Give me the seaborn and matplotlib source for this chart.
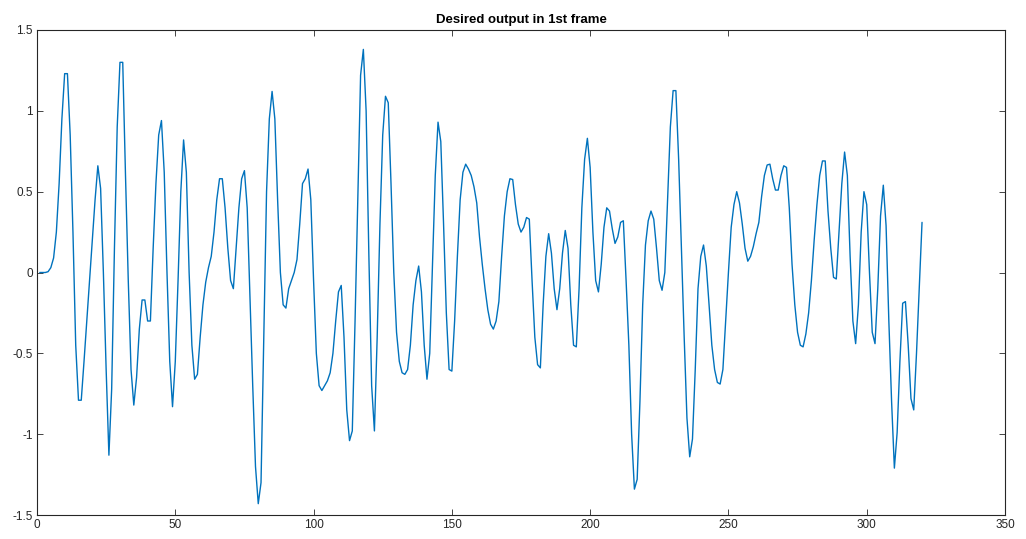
import numpy as np
import pandas as pd
import matplotlib
matplotlib.use("Agg")
import matplotlib.pyplot as plt
import seaborn as sns

# Signal values (one per frame sample, x = 1..320)
signal = [
    0.0, 0.0, 0.0, 0.005, 0.03, 0.09, 0.25, 0.55, 0.95, 1.23,          # 1-10
    1.23, 0.85, 0.25, -0.45, -0.79, -0.79, -0.55, -0.3, -0.05, 0.2,    # 11-20
    0.45, 0.66, 0.52, 0.0, -0.6, -1.13, -0.72, 0.15, 0.9, 1.3,         # 21-30
    1.3, 0.6, -0.05, -0.6, -0.82, -0.65, -0.35, -0.17, -0.17, -0.3,    # 31-40
    -0.3, 0.15, 0.55, 0.85, 0.94, 0.62, 0.0, -0.55, -0.83, -0.55,      # 41-50
    -0.05, 0.5, 0.82, 0.62, 0.0, -0.45, -0.66, -0.63, -0.4, -0.2,      # 51-60
    -0.06, 0.03, 0.1, 0.25, 0.45, 0.58, 0.58, 0.4, 0.15, -0.05,        # 61-70
    -0.1, 0.15, 0.4, 0.58, 0.63, 0.4, -0.15, -0.7, -1.2, -1.43,        # 71-80
    -1.3, -0.4, 0.5, 0.95, 1.12, 0.95, 0.45, 0.0, -0.2, -0.22,         # 81-90
    -0.1, -0.05, 0.0, 0.08, 0.3, 0.55, 0.58, 0.64, 0.45, -0.05,        # 91-100
    -0.5, -0.7, -0.73, -0.7, -0.67, -0.62, -0.5, -0.3, -0.12, -0.08,   # 101-110
    -0.4, -0.85, -1.04, -0.98, -0.3, 0.45, 1.22, 1.38, 1.0, 0.1,       # 111-120
    -0.7, -0.98, -0.4, 0.3, 0.85, 1.09, 1.05, 0.55, 0.0, -0.37,        # 121-130
    -0.55, -0.62, -0.63, -0.6, -0.45, -0.2, -0.05, 0.04, -0.12, -0.45, # 131-140
    -0.66, -0.5, 0.05, 0.6, 0.93, 0.81, 0.3, -0.25, -0.6, -0.61,       # 141-150
    -0.3, 0.1, 0.45, 0.62, 0.67, 0.64, 0.6, 0.53, 0.43, 0.22,          # 151-160
    0.05, -0.1, -0.23, -0.32, -0.35, -0.3, -0.18, 0.1, 0.35, 0.5,      # 161-170
    0.58, 0.575, 0.42, 0.3, 0.25, 0.28, 0.34, 0.33, -0.05, -0.4,       # 171-180
    -0.57, -0.59, -0.2, 0.1, 0.24, 0.12, -0.1, -0.23, -0.1, 0.12,      # 181-190
    0.26, 0.15, -0.2, -0.45, -0.46, -0.1, 0.4, 0.7, 0.83, 0.65,        # 191-200
    0.25, -0.05, -0.12, 0.05, 0.28, 0.4, 0.38, 0.27, 0.18, 0.22,       # 201-210
    0.31, 0.32, -0.05, -0.45, -1.0, -1.34, -1.28, -0.8, -0.2, 0.17,    # 211-220
    0.32, 0.38, 0.33, 0.15, -0.05, -0.11, 0.0, 0.45, 0.9, 1.125,       # 221-230
    1.125, 0.7, 0.15, -0.4, -0.9, -1.14, -1.03, -0.6, -0.1, 0.1,       # 231-240
    0.17, 0.04, -0.2, -0.45, -0.6, -0.68, -0.69, -0.6, -0.3, 0.0,      # 241-250
    0.28, 0.42, 0.5, 0.43, 0.3, 0.15, 0.07, 0.1, 0.16, 0.24,           # 251-260
    0.31, 0.47, 0.6, 0.665, 0.67, 0.58, 0.51, 0.51, 0.6, 0.66,         # 261-270
    0.65, 0.4, 0.05, -0.2, -0.37, -0.45, -0.46, -0.38, -0.25, -0.05,   # 271-280
    0.2, 0.42, 0.6, 0.69, 0.69, 0.38, 0.15, -0.03, -0.04, 0.25,        # 281-290
    0.55, 0.745, 0.6, 0.1, -0.3, -0.44, -0.2, 0.25, 0.5, 0.42,         # 291-300
    0.0, -0.37, -0.44, -0.1, 0.35, 0.54, 0.29, -0.3, -0.8, -1.21,      # 301-310
    -0.99, -0.55, -0.19, -0.18, -0.45, -0.78, -0.85, -0.5, -0.1, 0.31, # 311-320
]
frames = list(range(1, len(signal) + 1))

x_ticks = [0, 50, 100, 150, 200, 250, 300, 350]
y_ticks = [-1.5, -1, -0.5, 0, 0.5, 1, 1.5]
y_tick_labels = ["-1.5", "-1", "-0.5", "0", "0.5", "1", "1.5"]
title = "Desired output in 1st frame"

df = pd.DataFrame({"frame": frames, "value": signal})

sns.set_style("ticks")
plt.rcParams["font.family"] = ["Liberation Sans", "DejaVu Sans"]

fig = plt.figure(figsize=(10.26, 5.39), dpi=100)
fig.patch.set_facecolor("white")
ax = fig.add_axes([37 / 1026, 24 / 539, 968 / 1026, 485 / 539])

sns.lineplot(data=df, x="frame", y="value", ax=ax, color="#0072BD",
             linewidth=1.0, estimator=None)

ax.set_xlim(0, 350)
ax.set_ylim(-1.5, 1.5)
ax.set_xticks(x_ticks)
ax.set_xticklabels([str(t) for t in x_ticks])
ax.set_yticks(y_ticks)
ax.set_yticklabels(y_tick_labels)
ax.set_xlabel("")
ax.set_ylabel("")
ax.set_title(title, fontsize=9.5, fontweight="bold", pad=5, color="#000000")

for s in ax.spines.values():
    s.set_visible(True)
    s.set_color("#262626")
    s.set_linewidth(0.8)
ax.tick_params(direction="in", top=True, right=True, length=4, width=0.6,
               labelsize=8.5, colors="#262626", pad=3)

fig.savefig("out.png", dpi=100, facecolor="white")
